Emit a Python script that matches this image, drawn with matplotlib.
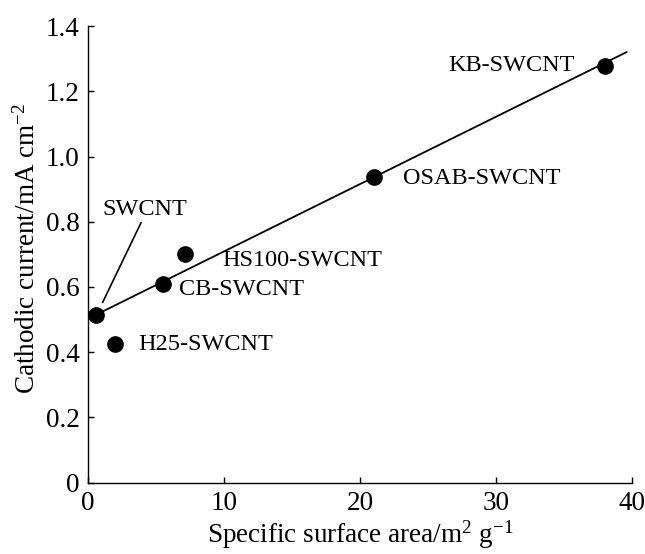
import numpy as np
import matplotlib.pyplot as plt

plt.rcParams['font.family'] = ['Liberation Serif', 'DejaVu Serif']
plt.rcParams['mathtext.fontset'] = 'custom'
plt.rcParams['mathtext.rm'] = 'Liberation Serif'
plt.rcParams['mathtext.it'] = 'Liberation Serif:italic'

# data
names = ['SWCNT', 'H25-SWCNT', 'CB-SWCNT', 'HS100-SWCNT', 'OSAB-SWCNT', 'KB-SWCNT']
area = [0.6, 2.0, 5.5, 7.1, 21.0, 38.0]
current = [0.515, 0.425, 0.608, 0.700, 0.938, 1.277]

fit_x = [0.6, 39.6]
fit_y = [0.515, 1.320]

xticks = [0, 10, 20, 30, 40]
yticks = [0, 0.2, 0.4, 0.6, 0.8, 1.0, 1.2, 1.4]
yticklabels = ['0', '0.2', '0.4', '0.6', '0.8', '1.0', '1.2', '1.4']

fig = plt.figure(figsize=(6.45, 5.54), dpi=100)
ax = fig.add_axes([0.1364, 0.1287, 0.8434, 0.8243])

ax.plot(fit_x, fit_y, color='black', lw=1.3, zorder=2)
ax.plot(area, current, 'o', color='black', ms=11, zorder=3)

# labels next to the points
fs = 17.5
ax.text(3.7, 0.425, names[1], fontsize=fs, va='center', ha='left')
ax.text(6.7, 0.592, names[2], fontsize=fs, va='center', ha='left')
ax.text(9.9, 0.680, names[3], fontsize=fs, va='center', ha='left')
ax.text(23.2, 0.932, names[4], fontsize=fs, va='center', ha='left')
ax.text(35.8, 1.280, names[5], fontsize=fs, va='center', ha='right')
ax.text(4.2, 0.837, names[0], fontsize=fs, va='center', ha='center')
ax.plot([3.9, 1.08], [0.797, 0.553], color='black', lw=1.2)

ax.set_xlim(0, 40)
ax.set_ylim(0, 1.4)
ax.set_xticks(xticks)
ax.set_xticklabels([str(t) for t in xticks])
ax.set_yticks(yticks)
ax.set_yticklabels(yticklabels)
ax.tick_params(direction='in', length=4, width=1, labelsize=19.5, pad=6)

for s in ['top', 'right']:
    ax.spines[s].set_visible(False)
for s in ['left', 'bottom']:
    ax.spines[s].set_linewidth(1.0)

ax.set_xlabel('Specific surface area/m$^{2}$ g$^{-1}$', fontsize=19.5, labelpad=2)
ax.set_ylabel('Cathodic current/mA cm$^{-2}$', fontsize=19.5, labelpad=8)
ax.yaxis.set_label_coords(-0.087, 0.513)

fig.savefig('out.png', dpi=100)
